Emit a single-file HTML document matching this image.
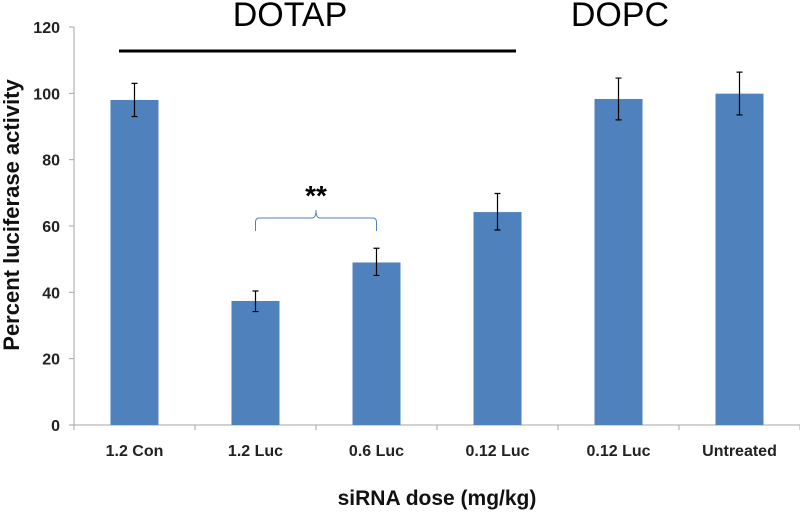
<!DOCTYPE html>
<html><head><meta charset="utf-8"><style>
body{margin:0;background:#fff;}
svg text{font-family:"Liberation Sans",Arial,sans-serif;}
</style></head><body>
<svg id="chart" width="800" height="514" xmlns="http://www.w3.org/2000/svg"></svg>
<script>
const categories=["1.2 Con","1.2 Luc","0.6 Luc","0.12 Luc","0.12 Luc","Untreated"];
const values=[98,37.4,49,64.2,98.3,99.9];
const errHigh=[103,40.4,53.3,69.8,104.6,106.4];
const errLow=[93,34.2,45.1,58.8,92,93.5];
const yTicks=[0,20,40,60,80,100,120];

const NS="http://www.w3.org/2000/svg";
const svg=document.getElementById('chart');
const x0=74,x1=800,yBase=425,yTop=27,yMax=120;
const bw=(x1-x0)/categories.length;
function y(v){return yBase-(v/yMax)*(yBase-yTop);}
function xc(i){return x0+bw*(i+0.5);}
function mk(tag,attrs,txt){const e=document.createElementNS(NS,tag);for(const k in attrs)e.setAttribute(k,attrs[k]);if(txt!==undefined)e.textContent=txt;svg.appendChild(e);return e;}

let e=mk('line',{x1:x0,y1:yTop,x2:x0,y2:yBase,stroke:'#a6a6a6','stroke-width':1});


yTicks.forEach(t=>{
  let tk=mk('line',{x1:x0-5,y1:y(t),x2:x0,y2:y(t),stroke:'#a6a6a6'});
  
  
  let l=mk('text',{x:60,y:y(t)+6,'text-anchor':'end','font-size':16,'font-weight':'bold',fill:'#222'},t);
  
  
});
e=mk('line',{x1:x0,y1:yBase,x2:x1,y2:yBase,stroke:'#a6a6a6','stroke-width':1});


for(let i=0;i<=categories.length;i++){
  let tk=mk('line',{x1:x0+bw*i,y1:yBase,x2:x0+bw*i,y2:yBase+5,stroke:'#a6a6a6'});
  
  
}
categories.forEach((c,i)=>{
  const cx=xc(i);
  let b=mk('rect',{x:cx-24,y:y(values[i]),width:48,height:yBase-y(values[i]),fill:'#4f81bd'});
  
  
  let g=mk('path',{d:`M${cx-3},${y(errHigh[i])}H${cx+3}M${cx},${y(errHigh[i])}V${y(errLow[i])}M${cx-3},${y(errLow[i])}H${cx+3}`,stroke:'#000','stroke-width':1.2,fill:'none'});
  
  
  let l=mk('text',{x:cx,y:456,'text-anchor':'middle','font-size':16,'font-weight':'bold',fill:'#222'},c);
  
  
});
e=mk('text',{x:437,y:505,'text-anchor':'middle','font-size':21,'font-weight':'bold',fill:'#111'},'siRNA dose (mg/kg)');


e=mk('text',{x:0,y:0,transform:'translate(19,215) rotate(-90)','text-anchor':'middle','font-size':22,'font-weight':'bold',fill:'#111'},'Percent luciferase activity');


e=mk('line',{x1:119,y1:51,x2:516,y2:51,stroke:'#000','stroke-width':3});


e=mk('text',{x:290,y:26,'text-anchor':'middle','font-size':34,fill:'#000'},'DOTAP');


e=mk('text',{x:620,y:26,'text-anchor':'middle','font-size':34,fill:'#000'},'DOPC');


const bl=xc(1),br=xc(2),bm=(bl+br)/2;
e=mk('path',{d:`M${bl},231 V222 Q${bl},218 ${bl+4},218 H${bm-4} Q${bm},218 ${bm},210 Q${bm},218 ${bm+4},218 H${br-4} Q${br},218 ${br},222 V231`,stroke:'#4f81bd','stroke-width':1,fill:'none'});


e=mk('text',{x:bm,y:205,'text-anchor':'middle','font-size':28,'font-weight':'bold',fill:'#000'},'**');


</script>
</body></html>
